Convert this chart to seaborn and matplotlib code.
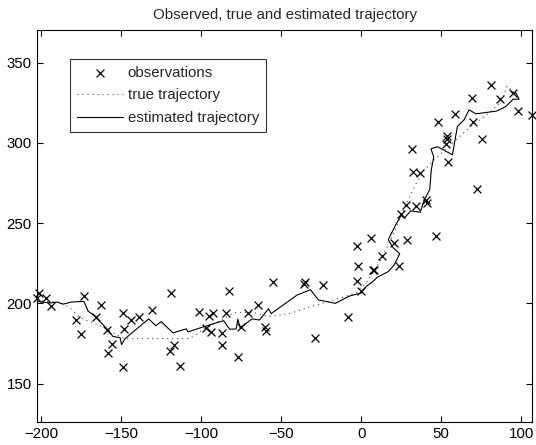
import numpy as np
import pandas as pd
import seaborn as sns
import matplotlib
matplotlib.use("Agg")
import matplotlib.pyplot as plt

# observations
obs_x = [-201.2, -202.3, -196.9, -194.0, -173.0, -162.6, -178.2, -174.8, -165.7, -158.7,
         -155.9, -158.0, -148.9, -148.4, -148.7, -143.9, -139.0, -130.5, -119.0, -116.9,
         -119.6, -113.3, -101.4, -94.8, -92.6, -97.1, -93.9, -86.7, -87.0, -84.7,
         -82.5, -77.2, -70.8, -64.4, -74.9, -60.2, -59.7, -54.9, -35.9, -35.0,
         -23.6, -29.0, -8.4, -0.1, -2.6, -2.1, -2.8, 6.3, 8.2, 7.6,
         13.0, 20.7, 23.4, 28.6, 46.7, 25.0, 28.3, 34.1, 40.4, 41.3,
         32.1, 36.5, 54.5, 72.4, 53.1, 53.7, 53.3, 47.7, 58.4, 69.8,
         75.7, 69.5, 81.2, 86.8, 94.9, 97.8, 106.7, 31.7]
obs_y = [206.5, 203.4, 203.1, 198.6, 204.9, 199.1, 189.5, 181.1, 191.6, 183.7,
         174.8, 169.2, 194.3, 184.1, 160.2, 189.4, 191.8, 196.2, 206.7, 173.9,
         170.2, 160.9, 194.7, 192.0, 194.1, 184.8, 182.0, 181.8, 174.1, 194.1,
         207.5, 166.7, 194.3, 199.0, 185.3, 185.6, 183.1, 213.6, 212.3, 213.4,
         211.7, 178.6, 191.8, 208.0, 214.0, 223.5, 235.5, 240.9, 220.9, 220.6,
         229.3, 237.6, 223.1, 239.4, 242.2, 255.7, 261.5, 260.7, 264.4, 262.5,
         281.8, 281.2, 288.4, 271.4, 299.6, 304.4, 302.7, 312.9, 318.1, 313.0,
         302.5, 327.9, 336.3, 327.2, 330.8, 319.8, 317.2, 296.1]

# true trajectory
true_x = [-202.3, -188.2, -181.9, -175.7, -163.2, -153.9, -147.6, -107.1, -97.8, -79.1,
          -66.6, -57.2, -44.8, -35.4, -23.0, -10.5, -3.0, 3.2, 11.3, 19.4,
          25.7, 33.2, 39.4, 46.9, 53.1, 61.2, 70.6, 79.9, 88.0, 91.1, 94.9]
true_y = [202.0, 200.5, 197.4, 191.2, 186.2, 181.2, 178.1, 178.1, 184.3, 194.3,
          194.3, 191.8, 193.7, 196.8, 200.5, 204.2, 206.7, 213.0, 225.4, 241.6,
          256.5, 272.7, 283.2, 290.7, 296.3, 303.8, 311.9, 318.7, 326.2, 335.5, 331.8]

# estimated trajectory
est_x = [-202.3, -194.4, -190.2, -186.1, -180.9, -173.2, -170.5, -167.4, -159.0, -155.1,
         -150.6, -149.7, -147.6, -132.7, -128.3, -124.8, -123.0, -117.5, -109.2, -108.2,
         -99.0, -85.9, -82.2, -78.1, -77.0, -75.6, -68.2, -63.5, -57.9, -56.2,
         -40.1, -31.7, -26.7, -16.1, -7.4, -0.1, 3.2, 7.6, 10.1, 16.9,
         20.7, 24.1, 20.1, 16.9, 21.6, 24.9, 26.9, 31.1, 36.9, 39.4,
         42.8, 43.8, 45.3, 43.6, 47.7, 57.0, 60.1, 64.3, 67.4, 71.6,
         84.6, 90.3, 94.9, 98.6, 96.7, 93.6]
est_y = [201.3, 200.3, 200.9, 199.6, 200.9, 201.3, 195.1, 193.0, 184.5, 179.5,
         178.7, 174.4, 178.0, 190.4, 186.2, 188.7, 186.8, 181.7, 184.2, 182.3,
         185.3, 189.3, 184.0, 184.1, 190.2, 184.8, 190.4, 189.7, 196.7, 193.7,
         205.2, 208.6, 202.2, 200.1, 204.6, 206.5, 210.6, 213.9, 216.4, 219.8,
         224.1, 231.0, 234.5, 239.7, 249.0, 254.9, 253.2, 257.7, 256.8, 264.6,
         270.8, 283.2, 291.3, 296.3, 297.6, 292.6, 310.2, 314.4, 320.6, 318.1,
         319.8, 322.6, 327.2, 327.2, 331.0, 331.8]

sns.set_style("ticks", {"xtick.direction": "in", "ytick.direction": "in"})
plt.rcParams["font.family"] = ["Liberation Sans", "DejaVu Sans"]

fs = 10.8
fig = plt.figure(figsize=(5.36, 4.45), dpi=100)
ax = fig.add_axes([37.3 / 536, 22.7 / 445, 494.7 / 536, 392.3 / 445])

obs = pd.DataFrame({"x": obs_x, "y": obs_y})
tru = pd.DataFrame({"x": true_x, "y": true_y})
est = pd.DataFrame({"x": est_x, "y": est_y})

sns.scatterplot(data=obs, x="x", y="y", marker="x", color="black", s=32,
                linewidth=0.9, ax=ax, label="observations", clip_on=False, zorder=3)
sns.lineplot(data=tru, x="x", y="y", sort=False, estimator=None, color="0.3",
             linewidth=0.8, linestyle=(0, (1, 3.5)), ax=ax, label="true trajectory")
sns.lineplot(data=est, x="x", y="y", sort=False, estimator=None, color="black",
             linewidth=0.8, ax=ax, label="estimated trajectory")

ax.set_xlim(-202.3, 106.7)
ax.set_ylim(126, 370.3)
ax.set_xticks(np.arange(-200, 101, 50))
ax.set_yticks(np.arange(150, 351, 50))
ax.set_xlabel("")
ax.set_ylabel("")
ax.tick_params(axis="both", which="both", direction="in", length=4, width=0.8,
               labelsize=fs, top=True, right=True, color="black", labelcolor="black")
ax.tick_params(axis="x", pad=3.6)
ax.tick_params(axis="y", pad=4)
for sp in ax.spines.values():
    sp.set_visible(True)
    sp.set_color("black")
    sp.set_linewidth(0.8)
ax.set_title("Observed, true and estimated trajectory", fontsize=fs, pad=8)

leg = ax.legend(loc="upper left", bbox_to_anchor=(0.066, 0.926), borderaxespad=0,
                fontsize=fs, frameon=True, fancybox=False, handlelength=3.1,
                handletextpad=0.3, labelspacing=0.58, borderpad=0.45)
leg.get_frame().set_edgecolor("black")
leg.get_frame().set_linewidth(0.8)

fig.savefig("out.png", dpi=100)
